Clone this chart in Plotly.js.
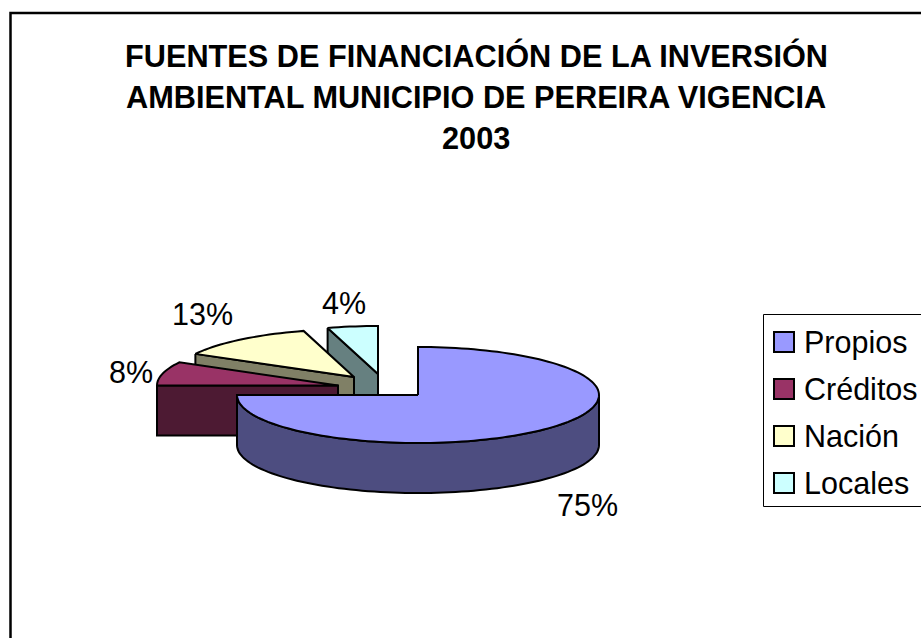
<!DOCTYPE html>
<html><head><meta charset="utf-8">
<script src="https://cdn.plot.ly/plotly-3.0.1.min.js"></script>
<style>html,body{margin:0;padding:0;background:#fff;overflow:hidden}#c{width:921px;height:638px}</style>
</head><body><div id="c"></div>
<script>
const categories = ["Propios","Créditos","Nación","Locales"];
const shares = [75, 8, 12.51, 4.49];
const topColors = ["#9999FF","#993366","#FFFFCC","#CCFFFF"];
const wallColors = ["#4D4D80","#4D1A33","#808066","#668080"];
const titleLines = ["FUENTES DE FINANCIACIÓN DE LA INVERSIÓN","AMBIENTAL MUNICIPIO DE PEREIRA VIGENCIA","2003"];

// pie geometry on a canvas-sized axis pair
const RX = 181, RY = 48, DEPTH = 50;
const apexes = [[418,395],[338,385.5],[354,377],[378,374]];
const labelPos = [[587,505],[131,372],[202,314],[344,303]];

const traces = [];
function poly(xs, ys, fill){
  traces.push({type:"scatter",mode:"lines",x:xs,y:ys,fill:"toself",fillcolor:fill,
    line:{color:"#000",width:2,simplify:false},hoverinfo:"skip",showlegend:false});
}
function rim(i, a0, a1){
  const [cx,cy] = apexes[i], pts = [], n = Math.max(2, Math.ceil((a1-a0)/2));
  for(let k=0;k<=n;k++){
    const a = (a0+(a1-a0)*k/n)*Math.PI/180;
    pts.push([cx+RX*Math.sin(a), cy-RY*Math.cos(a)]);
  }
  return pts;
}
// slice angles from the shares, clockwise from 12 o'clock
const starts = []; let run = 0;
shares.forEach(v=>{starts.push(run*3.6); run+=v;});
const ends = shares.map((v,i)=>starts[i]+v*3.6);

function drawSlice(i){
  const [cx,cy] = apexes[i];
  const arc = rim(i, starts[i], ends[i]);
  const s = arc[0];
  if(i===0){
    // front rim wall between 90 and 270 degrees
    const front = rim(i, 90, 270);
    const xs = front.map(p=>p[0]), ys = front.map(p=>p[1]);
    const back = front.slice().reverse();
    poly(xs.concat(back.map(p=>p[0])).concat(xs[0]), ys.concat(back.map(p=>p[1]+DEPTH)).concat(ys[0]), wallColors[i]);
  } else {
    // radial cut at the start of the slice, the one that faces the viewer
    poly([s[0],cx,cx,s[0],s[0]],[s[1],cy,cy+DEPTH,s[1]+DEPTH,s[1]],wallColors[i]);
  }
  const xs = [cx].concat(arc.map(p=>p[0])).concat(cx);
  const ys = [cy].concat(arc.map(p=>p[1])).concat(cy);
  poly(xs, ys, topColors[i]);
}
[3,2,1,0].forEach(drawSlice);

const annotations = [];
titleLines.forEach((t,i)=>annotations.push({xref:"x",yref:"y",x:476,y:56+i*41,text:"<b>"+t+"</b>",showarrow:false,
  xanchor:"center",yanchor:"middle",font:{family:"Liberation Sans",size:30.7,color:"#000"}}));
shares.forEach((v,i)=>annotations.push({xref:"x",yref:"y",x:labelPos[i][0],y:labelPos[i][1],text:Math.round(v)+"%",showarrow:false,
  xanchor:"center",yanchor:"middle",font:{family:"Liberation Sans",size:30.5,color:"#000"}}));

const shapes = [
  {type:"rect",xref:"x",yref:"y",x0:10.5,y0:13,x1:940,y1:660,line:{color:"#000",width:2.5},fillcolor:"rgba(0,0,0,0)",layer:"below"},
  {type:"rect",xref:"x",yref:"y",x0:763.5,y0:314.5,x1:940,y1:506.5,line:{color:"#000",width:1},fillcolor:"#fff",layer:"below"}
];
categories.forEach((c,i)=>{
  const y = 342+i*47;
  shapes.push({type:"rect",xref:"x",yref:"y",x0:774,x1:794,y0:y-10,y1:y+10,line:{color:"#000",width:2},fillcolor:topColors[i]});
  annotations.push({xref:"x",yref:"y",x:802,y:y,text:c,showarrow:false,xanchor:"left",yanchor:"middle",
    font:{family:"Liberation Sans",size:30.5,color:"#000"}});
});

Plotly.newPlot("c",traces,{
  width:921,height:638,margin:{l:0,r:0,t:0,b:0},paper_bgcolor:"#fff",plot_bgcolor:"#fff",showlegend:false,
  xaxis:{range:[0,921],visible:false,fixedrange:true},
  yaxis:{range:[638,0],visible:false,fixedrange:true},
  shapes,annotations
},{displayModeBar:false,staticPlot:true});
</script></body></html>
